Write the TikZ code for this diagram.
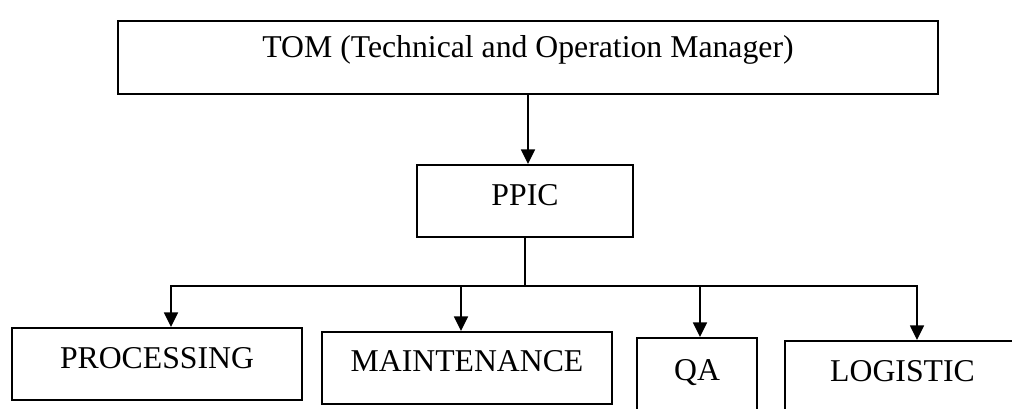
\documentclass[tikz,border=0pt]{standalone}
\usepackage{fontspec}
\setmainfont{Liberation Serif}
\usetikzlibrary{arrows.meta}
\begin{document}
\begin{tikzpicture}[x=0.75pt,y=-0.75pt,
  box/.style={draw, line width=1.2pt, inner sep=0pt, text height=30.75pt, text depth=23.25pt, anchor=north, font=\fontsize{23.8}{28}\selectfont},
  link/.style={line width=1.2pt},
  arr/.style={link, -{Triangle[width=10.5pt,length=11pt]}}]
\useasboundingbox (0,0) rectangle (1012,408);
\clip (0,0) rectangle (1012,408);
\node[box, minimum width=615pt, text height=27.75pt, text depth=27pt] (tom) at (528,20) {TOM (Technical and Operation Manager)};
\node[box, minimum width=162pt] (ppic) at (525,164) {PPIC};
\node[box, minimum width=217.5pt] (proc) at (157,327) {PROCESSING};
\node[box, minimum width=217.5pt, text height=30pt, text depth=24pt] (maint) at (467,331) {MAINTENANCE};
\node[box, minimum width=90pt, text height=32.25pt, text depth=21.75pt] (qa) at (697,337) {QA};
\node[box, minimum width=176.25pt] (logi) at (902.5,340) {LOGISTIC};
\coordinate (d1) at (171,286);
\coordinate (d2) at (461,286);
\coordinate (d3) at (700,286);
\coordinate (d4) at (917,286);
\draw[arr] (tom.south) -- (tom.south |- ppic.north);
\draw[link] (ppic.south) -- (ppic.south |- d1);
\draw[arr] (d4) -- (d1) -- (d1 |- proc.north);
\draw[arr] (d1) -- (d4) -- (d4 |- logi.north);
\draw[arr] (d2) -- (d2 |- maint.north);
\draw[arr] (d3) -- (d3 |- qa.north);
\end{tikzpicture}
\end{document}
